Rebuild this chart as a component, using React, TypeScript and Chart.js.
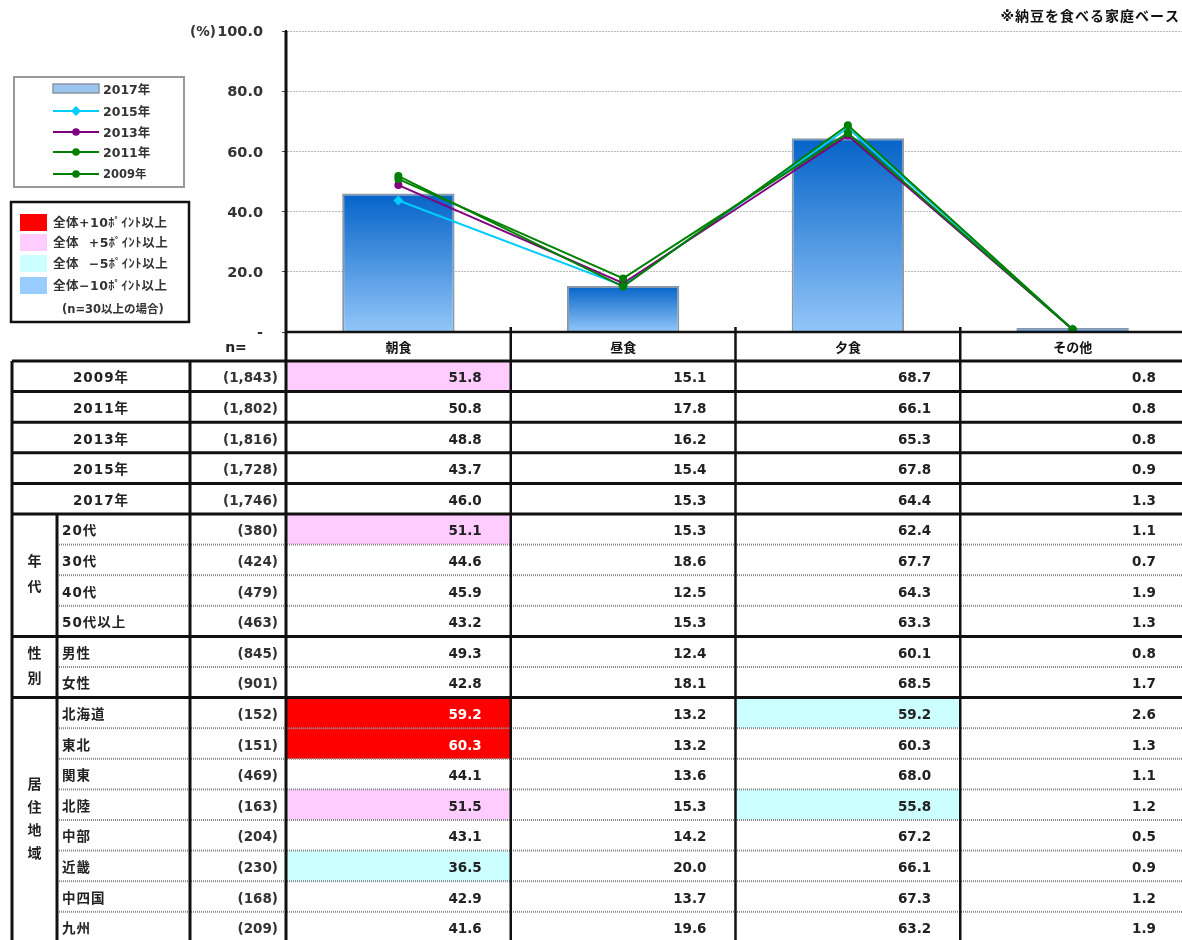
import React, { useEffect, useRef } from "react";
import { Chart, registerables } from "chart.js";

Chart.register(...registerables);

// ---------- data ----------
const categories = ["朝食", "昼食", "夕食", "その他"];
const series2017 = [46.0, 15.3, 64.4, 1.3];
const series2015 = [43.7, 15.4, 67.8, 0.9];
const series2013 = [48.8, 16.2, 65.3, 0.8];
const series2011 = [50.8, 17.8, 66.1, 0.8];
const series2009 = [51.8, 15.1, 68.7, 0.8];
const yTickValues = [0, 20, 40, 60, 80, 100];

const rowLabels = [
  "2009年", "2011年", "2013年", "2015年", "2017年",
  "20代", "30代", "40代", "50代以上",
  "男性", "女性",
  "北海道", "東北", "関東", "北陸", "中部", "近畿", "中四国", "九州",
];
const rowN = [
  "(1,843)", "(1,802)", "(1,816)", "(1,728)", "(1,746)",
  "(380)", "(424)", "(479)", "(463)",
  "(845)", "(901)",
  "(152)", "(151)", "(469)", "(163)", "(204)", "(230)", "(168)", "(209)",
];
const colBreakfast = [51.8, 50.8, 48.8, 43.7, 46.0, 51.1, 44.6, 45.9, 43.2, 49.3, 42.8, 59.2, 60.3, 44.1, 51.5, 43.1, 36.5, 42.9, 41.6];
const colLunch = [15.1, 17.8, 16.2, 15.4, 15.3, 15.3, 18.6, 12.5, 15.3, 12.4, 18.1, 13.2, 13.2, 13.6, 15.3, 14.2, 20.0, 13.7, 19.6];
const colDinner = [68.7, 66.1, 65.3, 67.8, 64.4, 62.4, 67.7, 64.3, 63.3, 60.1, 68.5, 59.2, 60.3, 68.0, 55.8, 67.2, 66.1, 67.3, 63.2];
const colOther = [0.8, 0.8, 0.8, 0.9, 1.3, 1.1, 0.7, 1.9, 1.3, 0.8, 1.7, 2.6, 1.3, 1.1, 1.2, 0.5, 0.9, 1.2, 1.9];
// highlight codes per row (朝食, 昼食, 夕食, その他): r=+10, p=+5, c=-5, b=-10
const markBreakfast = ["p", "", "", "", "", "p", "", "", "", "", "", "r", "r", "", "p", "", "c", "", ""];
const markLunch = ["", "", "", "", "", "", "", "", "", "", "", "", "", "", "", "", "", "", ""];
const markDinner = ["", "", "", "", "", "", "", "", "", "", "", "c", "", "", "c", "", "", "", ""];
const markOther = ["", "", "", "", "", "", "", "", "", "", "", "", "", "", "", "", "", "", ""];

const groupLabels = ["年代", "性別", "居住地域"];
const groupStarts = [5, 9, 11];
const groupEnds = [8, 10, 18];

const keyLabels = ["全体+10ﾎﾟｲﾝﾄ以上", "全体  +5ﾎﾟｲﾝﾄ以上", "全体  −5ﾎﾟｲﾝﾄ以上", "全体−10ﾎﾟｲﾝﾄ以上"];
const keyColors = ["#FF0000", "#FFCCFF", "#CCFFFF", "#99CCFF"];
const markColor: Record<string, string> = { r: "#FF0000", p: "#FFCCFF", c: "#CCFFFF", b: "#99CCFF" };

const FONT = '"DejaVu Sans", "Noto Sans CJK JP", sans-serif';

function text(
  ctx: CanvasRenderingContext2D,
  s: string,
  x: number,
  y: number,
  align: CanvasTextAlign,
  size = 13.5,
  color = "#222",
  spacing = 0
) {
  ctx.save();
  ctx.font = `bold ${size}px ${FONT}`;
  ctx.fillStyle = color;
  ctx.textAlign = align;
  ctx.textBaseline = "middle";
  (ctx as any).letterSpacing = spacing + "px";
  ctx.fillText(s, align === "right" ? x + spacing : x, y);
  ctx.restore();
}

function line(ctx: CanvasRenderingContext2D, x1: number, y1: number, x2: number, y2: number, w: number, color: string, dash: number[] = []) {
  ctx.save();
  ctx.lineWidth = w;
  ctx.strokeStyle = color;
  ctx.setLineDash(dash);
  ctx.beginPath();
  ctx.moveTo(x1, y1);
  ctx.lineTo(x2, y2);
  ctx.stroke();
  ctx.restore();
}

const tablePlugin = {
  id: "tableAndLegend",
  afterDraw(chart: any) {
    const ctx: CanvasRenderingContext2D = chart.ctx;
    const ca = chart.chartArea;
    const xs = chart.scales.x;
    const step = xs.getPixelForValue(1) - xs.getPixelForValue(0);
    const edges = categories.map((_, i) => xs.getPixelForValue(i) - step / 2);
    edges.push(edges[edges.length - 1] + step);
    const right = edges[edges.length - 1];
    const L0 = 12, L1 = 57, L2 = 190, L3 = ca.left;
    const headTop = ca.bottom;
    const top0 = 361;
    const rh = 30.6;
    const rowTop = (i: number) => top0 + i * rh;
    const nRows = rowLabels.length;
    const bottom = 960;
    const marks = [markBreakfast, markLunch, markDinner, markOther];
    const cols = [colBreakfast, colLunch, colDinner, colOther];

    // fills
    for (let r = 0; r < nRows; r++) {
      for (let c = 0; c < 4; c++) {
        const m = marks[c][r];
        if (m) {
          ctx.fillStyle = markColor[m];
          ctx.fillRect(edges[c], rowTop(r), edges[c + 1] - edges[c], rh);
        }
      }
    }

    // row separators
    const inGroup = (r: number) => {
      for (let g = 0; g < groupStarts.length; g++) {
        if (r >= groupStarts[g] && r < groupEnds[g]) return true;
      }
      return false;
    };
    for (let r = 0; r < nRows; r++) {
      const y = rowTop(r + 1);
      if (inGroup(r)) line(ctx, L1, y, right, y, 2, "#888", [1, 1]);
      else line(ctx, L0, y, right, y, 3, "#111");
    }
    line(ctx, L0, top0, right, top0, 3, "#111");
    line(ctx, L3, headTop, right, headTop, 2.5, "#111");

    // vertical lines
    line(ctx, L0, top0, L0, bottom, 3, "#111");
    line(ctx, L1, rowTop(groupStarts[0]), L1, bottom, 3, "#111");
    line(ctx, L2, top0, L2, bottom, 3, "#111");
    line(ctx, L3, ca.top, L3, bottom, 3, "#111");
    for (let c = 1; c < edges.length; c++) {
      line(ctx, edges[c], headTop - 5, edges[c], bottom, c === edges.length - 1 ? 3 : 2.5, "#111");
    }

    // header
    const hy = (headTop + top0) / 2 + 2;
    text(ctx, "n=", 236, hy, "center", 14, "#222");
    categories.forEach((cat, c) => text(ctx, cat, (edges[c] + edges[c + 1]) / 2, hy, "center", 13, "#111"));

    // rows
    for (let r = 0; r < nRows; r++) {
      const cy = rowTop(r) + rh / 2 + 2.5;
      if (r < groupStarts[0]) text(ctx, rowLabels[r], (L0 + L2) / 2, cy, "center", 13.5, "#222", 1);
      else text(ctx, rowLabels[r], L1 + 5, cy, "left", 13.5, "#222", 1);
      text(ctx, rowN[r], L3 - 8, cy, "right", 13.5, "#333");
      for (let c = 0; c < 4; c++) {
        const col = marks[c][r] === "r" ? "#FFFFFF" : "#222";
        text(ctx, cols[c][r].toFixed(1), edges[c + 1] - 29, cy, "right", 13.5, col);
      }
    }

    // group labels (vertical)
    groupLabels.forEach((g, gi) => {
      const mid = (rowTop(groupStarts[gi]) + rowTop(groupEnds[gi] + 1)) / 2;
      const chars = Array.from(g);
      const gap = chars.length > 2 ? 23 : 25;
      chars.forEach((ch, k) => {
        text(ctx, ch, (L0 + L1) / 2, mid + (k - (chars.length - 1) / 2) * gap, "center", 14, "#222");
      });
    });

    // axis unit + note
    text(ctx, "(%)", 190, ca.top + 1.5, "left", 13.5, "#333");
    text(ctx, "※納豆を食べる家庭ベース", 1179, 17, "right", 14, "#111", 1);

    // series legend
    ctx.save();
    ctx.lineWidth = 2;
    ctx.strokeStyle = "#999";
    ctx.strokeRect(14, 77, 170, 110);
    ctx.restore();
    const ly = [89, 111, 132, 152, 174];
    chart.data.datasets.forEach((ds: any, i: number) => {
      const y = ly[i];
      if (ds.type === "bar" || !ds.type) {
        ctx.save();
        ctx.fillStyle = "#9CC6F0";
        ctx.fillRect(53, y - 5, 46, 9);
        ctx.lineWidth = 1.5;
        ctx.strokeStyle = "#8A96A4";
        ctx.strokeRect(53, y - 5, 46, 9);
        ctx.restore();
      } else {
        line(ctx, 53, y, 99, y, 2, ds.borderColor);
        ctx.save();
        ctx.fillStyle = ds.borderColor;
        ctx.beginPath();
        if (ds.pointStyle === "rectRot") {
          const r = 5;
          ctx.moveTo(76, y - r);
          ctx.lineTo(76 + r, y);
          ctx.lineTo(76, y + r);
          ctx.lineTo(76 - r, y);
          ctx.closePath();
        } else {
          ctx.arc(76, y, 3.8, 0, Math.PI * 2);
        }
        ctx.fill();
        ctx.restore();
      }
      text(ctx, ds.label, 103, y + 1.5, "left", i === 4 ? 11.5 : 12.5, "#333");
    });

    // colour key legend
    ctx.save();
    ctx.lineWidth = 2.5;
    ctx.strokeStyle = "#111";
    ctx.strokeRect(11, 202, 178, 120);
    ctx.restore();
    const ky = [222, 242, 263, 285];
    keyLabels.forEach((k, i) => {
      ctx.fillStyle = keyColors[i];
      ctx.fillRect(20, ky[i] - 8, 27, 17);
      text(ctx, k, 53, ky[i] + 1.5, "left", 12.5, "#333", 0.5);
    });
    text(ctx, "(n=30以上の場合)", 62, 310, "left", 11.5, "#333");
  },
};

export default function App() {
  const ref = useRef<HTMLCanvasElement>(null);

  useEffect(() => {
    if (!ref.current) return;
    const chart = new Chart(ref.current, {
      type: "bar",
      data: {
        labels: categories,
        datasets: [
          {
            type: "bar",
            label: "2017年",
            data: series2017,
            order: 10,
            backgroundColor: (c: any) => {
              const ch = c.chart;
              const ca = ch.chartArea;
              if (!ca || c.type !== "data") return "#3a86dc";
              const ys = ch.scales.y;
              const top = ys.getPixelForValue(c.raw);
              const bot = ys.getPixelForValue(0);
              if (!(bot - top > 1)) return "#4d95e0";
              const g = ch.ctx.createLinearGradient(0, top, 0, bot);
              g.addColorStop(0, "#0563C8");
              g.addColorStop(1, "#92C6F8");
              return g;
            },
            borderColor: "#8A98A8",
            borderWidth: 2,
            borderSkipped: "bottom",
            barPercentage: 1,
            categoryPercentage: 0.5,
          } as any,
          {
            type: "line",
            label: "2015年",
            data: series2015,
            order: 4,
            borderColor: "#00CCFF",
            backgroundColor: "#00CCFF",
            borderWidth: 2,
            pointStyle: "rectRot",
            pointRadius: 5,
            pointBorderWidth: 0,
          },
          {
            type: "line",
            label: "2013年",
            data: series2013,
            order: 3,
            borderColor: "#800080",
            backgroundColor: "#800080",
            borderWidth: 2,
            pointStyle: "circle",
            pointRadius: 4,
            pointBorderWidth: 0,
          },
          {
            type: "line",
            label: "2011年",
            data: series2011,
            order: 2,
            borderColor: "#008000",
            backgroundColor: "#008000",
            borderWidth: 2,
            pointStyle: "circle",
            pointRadius: 4,
            pointBorderWidth: 0,
          },
          {
            type: "line",
            label: "2009年",
            data: series2009,
            order: 1,
            borderColor: "#008000",
            backgroundColor: "#008000",
            borderWidth: 2,
            pointStyle: "circle",
            pointRadius: 4,
            pointBorderWidth: 0,
          },
        ],
      },
      options: {
        responsive: false,
        maintainAspectRatio: false,
        animation: false,
        devicePixelRatio: 1,
        layout: { padding: { top: 31, right: 4, left: 0, bottom: 0 } },
        plugins: { legend: { display: false }, tooltip: { enabled: false } },
        scales: {
          x: {
            offset: true,
            grid: { display: false },
            ticks: { display: false },
            border: { display: true, color: "#111", width: 2 },
            afterFit: (s: any) => {
              s.height = 608;
            },
          },
          y: {
            min: yTickValues[0],
            max: yTickValues[yTickValues.length - 1],
            afterBuildTicks: (s: any) => {
              s.ticks = yTickValues.map((v) => ({ value: v }));
            },
            ticks: {
              padding: 19,
              labelOffset: 1.5,
              color: "#333",
              font: { family: FONT, weight: "bold", size: 14.5 },
              callback: (v: any) => (Number(v) === 0 ? "-" : Number(v).toFixed(1)),
            },
            grid: {
              color: (c: any) => (c.tick && c.tick.value === 0 ? "rgba(0,0,0,0)" : "#BBBBBB"),
              lineWidth: 1,
              tickLength: 4,
              tickColor: "#444",
            },
            border: { display: true, color: "#111", width: 2, dash: [2, 1] },
            afterFit: (s: any) => {
              s.width = 286;
            },
          },
        },
      },
      plugins: [tablePlugin],
    });
    return () => chart.destroy();
  }, []);

  return (
    <div style={{ position: "absolute", left: 0, top: 0, width: 1182, height: 940, overflow: "hidden", background: "#fff" }}>
      <canvas ref={ref} width={1190} height={940} style={{ display: "block" }} />
    </div>
  );
}
